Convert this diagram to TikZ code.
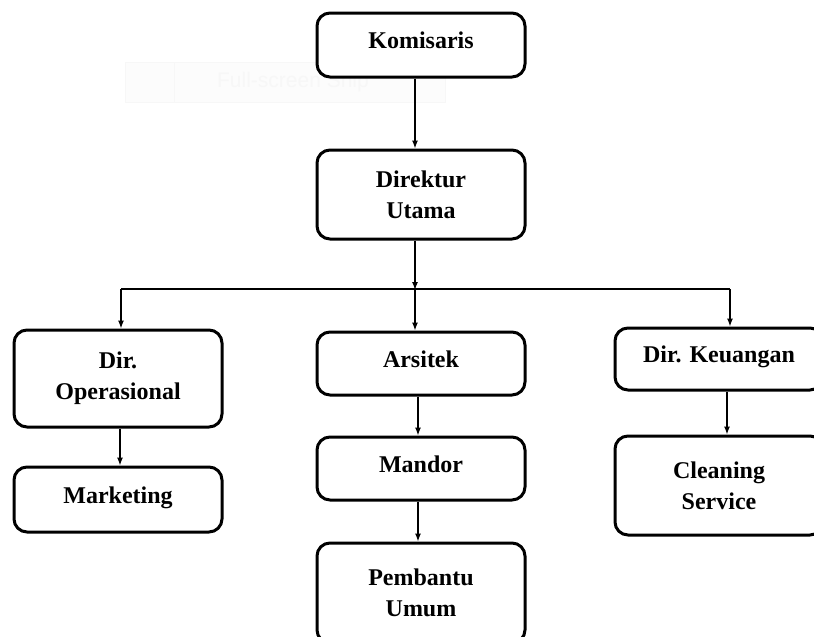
\documentclass[tikz,border=0pt]{standalone}
\usepackage{fontspec}
\setmainfont{Liberation Serif}
\newfontfamily\snipfont{Liberation Sans}
\usetikzlibrary{positioning}
\usetikzlibrary{arrows.meta}
\tikzset{orgbox/.style={draw=black, line width=3pt, rounded corners=13pt, fill=white,
minimum width=208pt, align=center, inner sep=2pt,
font=\fontsize{24}{31}\selectfont\bfseries},
oneline/.style={text depth=9pt}}

\begin{document}
\begin{tikzpicture}[x=1pt, y=-1pt, arr/.style={-{Latex[length=8pt,width=6pt]}, line width=1.3pt}]
	\path[use as bounding box, clip] (0,0) rectangle (814,637);
	% faint snip overlay
	\node[draw=black!3, fill=black!1, minimum width=320pt, minimum height=40pt,
		text=black!3, font=\snipfont\fontsize{21}{24}\selectfont] (snip) at (285,82) {\hspace*{16pt}Full-screen Snip};
	\draw[black!3] (174,62) -- (174,102);
	% top
	\node[orgbox, oneline, minimum height=64pt] (kom) at (421,45) {Komisaris};
	\node[orgbox, minimum height=89pt] (dirut) at (421,194.5) {Direktur\\Utama};
	% second row
	\node[orgbox, minimum height=97pt] (dirop) at (118,378.5) {Dir.\\Operasional};
	\node[orgbox, oneline, minimum height=63pt] (arsitek) at (421,363.5) {Arsitek};
	\node[orgbox, oneline, minimum height=62pt] (keu) at (719,359) {Dir. Keuangan};
	% lower rows
	\node[orgbox, oneline, minimum height=65pt] (mkt) at (118,499.5) {Marketing};
	\node[orgbox, oneline, minimum height=63pt] (mandor) at (421,468.5) {Mandor};
	\node[orgbox, minimum height=99pt] (cs) at (719,485.5) {Cleaning\\Service};
	\node[orgbox, minimum height=100pt] (pembantu) at (421,593) {Pembantu\\Umum};
	% bus line
	\coordinate (bL) at (121,289);
	\coordinate (bM) at (415,289);
	\coordinate (bR) at (730,289);
	\draw[line width=1.3pt] (bL) -- (bR);
	% connectors
	\draw[arr] ([xshift=-6pt]kom.south) -- ([xshift=-6pt]dirut.north);
	\draw[arr] ([xshift=-6pt]dirut.south) -- ([yshift=-1pt]bM);
	\draw[arr] (bL) -- (bL |- dirop.north);
	\draw[arr] (bM) -- (bM |- arsitek.north);
	\draw[arr] (bR) -- (bR |- keu.north);
	\draw[arr] ([xshift=2pt]dirop.south) -- ([xshift=2pt]mkt.north);
	\draw[arr] ([xshift=-3pt]arsitek.south) -- ([xshift=-3pt]mandor.north);
	\draw[arr] ([xshift=-3pt]mandor.south) -- ([xshift=-3pt]pembantu.north);
	\draw[arr] ([xshift=8pt]keu.south) -- ([xshift=8pt]cs.north);
\end{tikzpicture}
\end{document}
